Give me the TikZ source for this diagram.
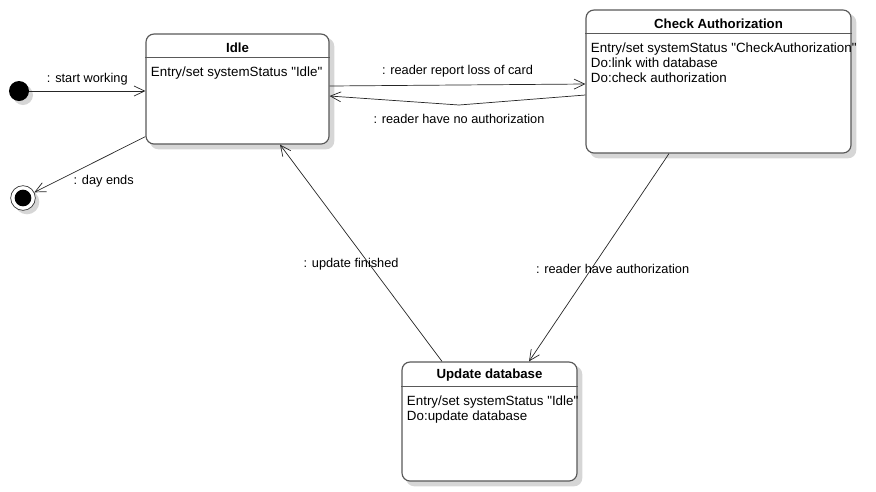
\documentclass[tikz,border=0pt]{standalone}
\usepackage{fontspec}
\setmainfont{Liberation Sans}[Ligatures=TeXOff]
\usetikzlibrary{positioning, backgrounds, arrows.meta}

\tikzset{
  statebox/.style={draw=black!65, line width=1pt, rounded corners=0.24cm, fill=white},
  shade box/.style={fill=black!16, rounded corners=0.24cm},
  title/.style={font=\fontsize{11.3}{13}\selectfont\bfseries, inner sep=0pt},
  body/.style={font=\fontsize{11.4}{12.75}\selectfont, align=left, inner sep=0pt, anchor=north west},
  lbl/.style={font=\fontsize{10.9}{12}\selectfont, inner sep=1pt},
  trans/.style={draw=black!85, line width=0.6pt, -{Straight Barb[length=9pt, width=8.5pt]}},
  initial/.style={circle, fill=black, minimum size=0.6cm, inner sep=0pt},
  final/.style={circle, draw=black!80, fill=white, line width=0.6pt, minimum size=0.74cm, inner sep=0pt,
    path picture={\fill[black] (path picture bounding box.center) circle (0.25cm);}}
}

\begin{document}
\begin{tikzpicture}[x=0.03cm, y=-0.03cm]
      \useasboundingbox (0, 0) rectangle (876, 491);

      \node [initial] (start) at (19, 91) {};
      \node [final] (end) at (23, 198) {};

      \node [statebox, minimum width=5.49cm, minimum height=3.3cm] (idle) at (237.5, 89) {};
      \node [statebox, minimum width=7.95cm, minimum height=4.29cm] (check) at (718.5, 81.5) {};
      \node [statebox, minimum width=5.25cm, minimum height=3.57cm] (update) at (489.5, 421.5) {};

      \begin{scope}[on background layer]
        \foreach \s in {idle, check, update}
          \fill [shade box] ([xshift=0.14cm, yshift=-0.14cm]\s.south west) rectangle ([xshift=0.14cm, yshift=-0.14cm]\s.north east);
        \fill [black!16] ([xshift=0.12cm, yshift=-0.12cm]start.center) circle (0.3cm);
        \fill [black!16] ([xshift=0.12cm, yshift=-0.12cm]end.center) circle (0.37cm);
      \end{scope}

      \draw [draw=black!65, line width=1pt] ([yshift=-0.72cm]idle.north west) -- ([yshift=-0.72cm]idle.north east);
      \draw [draw=black!65, line width=1pt] ([yshift=-0.72cm]check.north west) -- ([yshift=-0.72cm]check.north east);
      \draw [draw=black!65, line width=1pt] ([yshift=-0.75cm]update.north west) -- ([yshift=-0.75cm]update.north east);

      \node [title] (idle-title) at ([yshift=-0.42cm]idle.north) {Idle};
      \node [title] (check-title) at ([yshift=-0.42cm]check.north) {Check Authorization};
      \node [title] (update-title) at ([yshift=-0.42cm]update.north) {Update database};

      \node [body] (idle-body) at ([xshift=0.16cm, yshift=-1.0cm]idle.north west)
        {Entry/set systemStatus "Idle"};
      \node [body] (check-body) at ([xshift=0.16cm, yshift=-1.0cm]check.north west)
        {Entry/set systemStatus "CheckAuthorization"\\Do:link with database\\Do:check authorization};
      \node [body] (update-body) at ([xshift=0.16cm, yshift=-1.03cm]update.north west)
        {Entry/set systemStatus "Idle"\\Do:update database};

      \coordinate (bend) at (459, 105);

      \draw [trans] (start) -- node [lbl, above=0.14cm] {: start working} (idle.west |- start);
      \draw [trans] ([yshift=0.24cm]idle.south west) -- node [lbl, pos=0.66, anchor=north west] {: day ends} (end);
      \draw [trans] ([yshift=0.09cm]idle.east) -- node [lbl, above=0.2cm] {: reader report loss of card} ([yshift=-0.075cm]check.west);
      \draw [trans] ([yshift=-0.405cm]check.west) -- (bend) node [lbl, below=0.22cm] {: reader have no authorization} -- ([yshift=-0.21cm]idle.east);
      \draw [trans] ([xshift=-1.485cm]check.south) -- node [lbl, pos=0.553, xshift=0.63cm] {: reader have authorization} ([xshift=1.185cm]update.north);
      \draw [trans] ([xshift=-1.425cm]update.north) -- node [lbl, pos=0.45, xshift=-0.54cm] {: update finished} ([xshift=1.275cm]idle.south);
    \end{tikzpicture}
\end{document}
